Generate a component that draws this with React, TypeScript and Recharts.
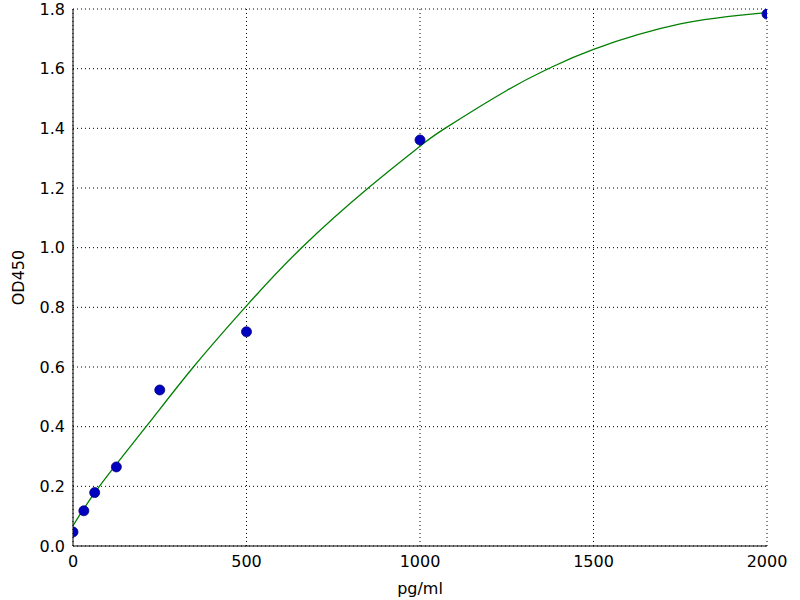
import {
  ComposedChart,
  Line,
  Scatter,
  XAxis,
  YAxis,
  CartesianGrid,
  Label,
} from 'recharts'

// measured standards
const concentrations = [0, 31.25, 62.5, 125, 250, 500, 1000, 2000]
const odValues = [0.047, 0.118, 0.179, 0.265, 0.523, 0.718, 1.361, 1.783]

// fitted curve
const curveX = [0, 76, 214, 347, 496, 659, 856, 1000, 1072, 1250, 1370, 1500, 1750, 2000]
const curveY = [0.068, 0.2, 0.405, 0.6, 0.8, 1.0, 1.205, 1.34, 1.4, 1.527, 1.6, 1.665, 1.75, 1.788]

const xTicks = [0, 500, 1000, 1500, 2000]
const yTicks = [0, 0.2, 0.4, 0.6, 0.8, 1.0, 1.2, 1.4, 1.6, 1.8]

const points = concentrations.map((c, i) => ({ x: c, y: odValues[i] }))
const curve = curveX.map((c, i) => ({ x: c, y: curveY[i] }))

const font = 'DejaVu Sans, sans-serif'

export default function App() {
  return (
    <div style={{ position: 'absolute', left: 0, top: 0, background: '#fff' }}>
      <ComposedChart
        width={800}
        height={600}
        margin={{ top: 9, right: 33, bottom: 8, left: 8 }}
      >
        <CartesianGrid
          xAxisId="b"
          yAxisId="l"
          stroke="#000"
          strokeDasharray="1 3"
        />
        <XAxis
          xAxisId="b"
          dataKey="x"
          type="number"
          domain={[0, 2000]}
          ticks={xTicks}
          tickSize={0}
          tickMargin={10}
          height={46}
          stroke="#000"
          tick={{ fill: '#000', fontSize: 16, fontFamily: font }}
          allowDataOverflow
        >
          <Label
            value="pg/ml"
            position="insideBottom"
            offset={-2}
            style={{ fill: '#000', fontSize: 16, fontFamily: font }}
          />
        </XAxis>
        <XAxis
          xAxisId="t"
          orientation="top"
          dataKey="x"
          type="number"
          domain={[0, 2000]}
          ticks={xTicks}
          tick={false}
          tickLine={false}
          height={0}
          stroke="#000"
        />
        <YAxis
          yAxisId="l"
          dataKey="y"
          type="number"
          domain={[0, 1.8]}
          ticks={yTicks}
          tickFormatter={v => Number(v).toFixed(1)}
          tickSize={0}
          tickMargin={8}
          width={65}
          stroke="#000"
          tick={{ fill: '#000', fontSize: 16, fontFamily: font }}
          allowDataOverflow
        >
          <Label
            value="OD450"
            angle={-90}
            position="insideLeft"
            offset={10}
            style={{ fill: '#000', fontSize: 16, fontFamily: font, textAnchor: 'middle' }}
          />
        </YAxis>
        <YAxis
          yAxisId="r"
          orientation="right"
          dataKey="y"
          type="number"
          domain={[0, 1.8]}
          ticks={yTicks}
          tick={false}
          tickLine={false}
          width={0}
          stroke="#000"
        />
        <Line
          xAxisId="b"
          yAxisId="l"
          data={curve}
          dataKey="y"
          type="natural"
          stroke="#007f00"
          strokeWidth={1.3}
          dot={false}
          isAnimationActive={false}
        />
        <Scatter
          xAxisId="b"
          yAxisId="l"
          data={points}
          dataKey="y"
          fill="#0000bf"
          shape={(p: any) => (
            <circle cx={p.cx} cy={p.cy} r={5} fill="#0000bf" stroke="#00007f" strokeWidth={0.8} />
          )}
          isAnimationActive={false}
        />
      </ComposedChart>
    </div>
  )
}
